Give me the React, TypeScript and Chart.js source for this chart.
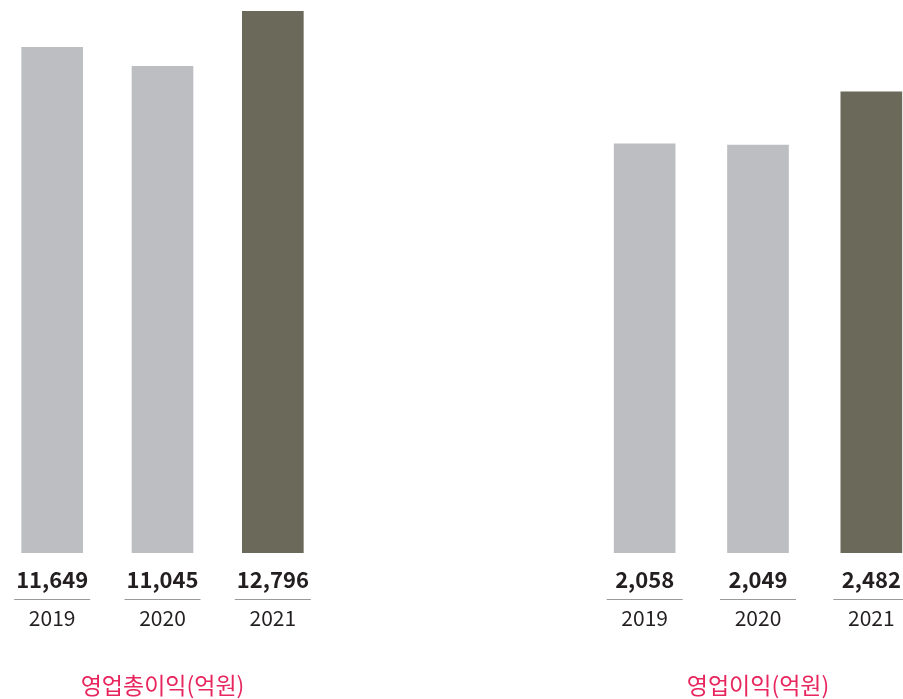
import React, { useEffect, useRef } from "react";
import { Chart, registerables } from "chart.js";

Chart.register(...registerables);

const years = ["2019", "2020", "2021"];
const grossProfit = [11649, 11045, 12796];
const operatingProfit = [2058, 2049, 2482];
const grossTitle = "영업총이익(억원)";
const opTitle = "영업이익(억원)";
const grossRange = [-4392, 13152];
const opRange = [-1276, 3231];

const FONT = "'Noto Sans CJK KR', 'Noto Sans', sans-serif";
const LIGHT = "#bdbec1";
const DARK = "#6b6a5a";
const TEXT = "#231f20";
const PINK = "#e8265e";

const valueLabels = {
  id: "valueLabels",
  afterDatasetsDraw(chart: any) {
    const ctx = chart.ctx;
    const meta = chart.getDatasetMeta(0);
    const data = chart.data.datasets[0].data as number[];
    const bottom = chart.chartArea.bottom;
    ctx.save();
    meta.data.forEach((bar: any, i: number) => {
      const x = bar.x;
      ctx.font = `bold 22px ${FONT}`;
      ctx.fillStyle = TEXT;
      ctx.textAlign = "center";
      ctx.textBaseline = "alphabetic";
      ctx.fillText(data[i].toLocaleString("en-US"), x, bottom + 35);
      ctx.strokeStyle = "#9a9a9a";
      ctx.lineWidth = 1;
      ctx.beginPath();
      ctx.moveTo(x - 38, bottom + 46.5);
      ctx.lineTo(x + 38, bottom + 46.5);
      ctx.stroke();
    });
    ctx.restore();
  },
};

function BarPanel(props: {
  values: number[];
  title: string;
  range: number[];
  style: React.CSSProperties;
}) {
  const ref = useRef<HTMLCanvasElement | null>(null);
  useEffect(() => {
    if (!ref.current) return;
    const chart = new Chart(ref.current, {
      type: "bar",
      data: {
        labels: years,
        datasets: [
          {
            data: props.values,
            base: props.range[0],
            backgroundColor: props.values.map((_, i) =>
              i === props.values.length - 1 ? DARK : LIGHT
            ),
            barThickness: 61,
          } as any,
        ],
      },
      options: {
        animation: false,
        responsive: false,
        maintainAspectRatio: false,
        layout: { padding: 0 },
        plugins: {
          legend: { display: false },
          tooltip: { enabled: false },
          title: {
            display: true,
            text: props.title,
            position: "bottom",
            color: PINK,
            font: { family: FONT, size: 23, weight: "normal" },
            padding: { top: 0, bottom: 0 },
          },
        },
        scales: {
          x: {
            grid: { display: false, drawTicks: false },
            border: { display: false },
            ticks: {
              color: TEXT,
              font: { family: FONT, size: 21, lineHeight: 6.15 },
              padding: 0,
            },
            afterFit: (scale: any) => {
              scale.height = 118.4;
            },
          },
          y: {
            display: false,
            min: props.range[0],
            max: props.range[1],
          },
        },
      },
      plugins: [valueLabels],
    });
    return () => chart.destroy();
  }, []);
  return (
    <canvas
      ref={ref}
      width={props.style.width as number}
      height={699}
      style={{ position: "absolute", top: 0, ...props.style, height: 699 }}
    />
  );
}

export default function App() {
  return (
    <div
      style={{
        position: "absolute",
        left: 0,
        top: 0,
        width: 903,
        height: 699,
        overflow: "hidden",
        background: "#fff",
      }}
    >
      <BarPanel values={grossProfit} title={grossTitle} range={grossRange} style={{ left: -3, width: 331 }} />
      <BarPanel values={operatingProfit} title={opTitle} range={opRange} style={{ left: 588, width: 340 }} />
    </div>
  );
}
